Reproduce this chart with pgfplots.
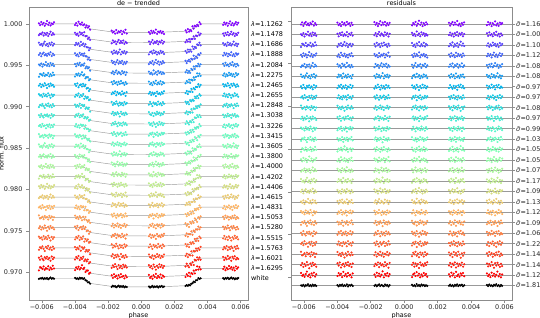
\documentclass[border=0pt]{standalone}
\usepackage{pgfplots}
\pgfplotsset{compat=1.18}
\usepackage{pgfplotstable}
\usepackage{fontspec}
\setmainfont{DejaVu Sans}

\definecolor{c0}{rgb}{0.500,0.000,1.000}
\definecolor{c1}{rgb}{0.417,0.131,0.998}
\definecolor{c2}{rgb}{0.333,0.259,0.991}
\definecolor{c3}{rgb}{0.250,0.383,0.981}
\definecolor{c4}{rgb}{0.167,0.500,0.966}
\definecolor{c5}{rgb}{0.083,0.609,0.947}
\definecolor{c6}{rgb}{0.000,0.707,0.924}
\definecolor{c7}{rgb}{0.083,0.793,0.897}
\definecolor{c8}{rgb}{0.167,0.866,0.866}
\definecolor{c9}{rgb}{0.250,0.924,0.832}
\definecolor{c10}{rgb}{0.333,0.966,0.793}
\definecolor{c11}{rgb}{0.417,0.991,0.752}
\definecolor{c12}{rgb}{0.500,1.000,0.707}
\definecolor{c13}{rgb}{0.583,0.991,0.659}
\definecolor{c14}{rgb}{0.667,0.966,0.609}
\definecolor{c15}{rgb}{0.750,0.924,0.556}
\definecolor{c16}{rgb}{0.833,0.866,0.500}
\definecolor{c17}{rgb}{0.917,0.793,0.442}
\definecolor{c18}{rgb}{1.000,0.707,0.383}
\definecolor{c19}{rgb}{1.000,0.609,0.321}
\definecolor{c20}{rgb}{1.000,0.500,0.259}
\definecolor{c21}{rgb}{1.000,0.383,0.195}
\definecolor{c22}{rgb}{1.000,0.259,0.131}
\definecolor{c23}{rgb}{1.000,0.131,0.065}
\definecolor{c24}{rgb}{1.000,0.000,0.000}
\definecolor{cw}{rgb}{0,0,0}
\definecolor{framec}{gray}{0.55}

% x = phase, m = transit model (flux - 1), a..f = scatter of the points
\pgfplotstableread{
x m a b c d e f
-0.00617 0 0.3 -0.5 0.8 -0.2 0.1 -0.9
-0.00610 0 -0.6 0.2 -0.3 0.7 -0.4 0.5
-0.00603 0 0.9 -0.1 0.1 -0.8 0.6 0.2
-0.00596 0 -0.2 0.8 -0.7 0.3 -0.9 -0.3
-0.00589 0 0.5 -0.7 0.4 0.9 0.2 0.8
-0.00582 0 -0.9 0.4 1.3 -0.4 -0.1 -0.6
-0.00575 0 0.1 -0.3 -0.5 0.2 1.2 0.1
-0.00568 0 1.4 0.6 0.2 -0.6 -0.5 -0.2
-0.00561 0 -0.4 -0.9 -0.9 0.5 0.4 0.9
-0.00554 0 0.6 0.1 0.6 -0.1 -0.7 -0.7
-0.00547 0 -0.7 1.2 -0.2 1.1 0.8 0.3
-0.00540 0 0.2 -0.4 0.9 -0.7 -0.3 -0.4
-0.00533 0 -0.1 0.5 -0.6 0.4 0.5 1.1
-0.00526 0 0.8 -0.2 0.3 -0.3 -0.6 -0.1
-0.00399 0 -0.5 0.7 -0.4 0.6 0.3 -0.8
-0.00392 0 0.4 -0.3 0.7 -0.5 -0.8 0.4
-0.00385 0 -0.8 0.2 -0.1 0.1 0.6 -0.2
-0.00378 0 1.1 -0.8 0.5 -0.9 -0.2 0.7
-0.00371 0 0.1 0.9 -0.8 0.8 0.9 -0.5
-0.00364 0 -0.3 -0.1 1.2 -0.2 -0.6 0.2
-0.00357 0 0.7 0.5 -0.3 0.4 0.1 1.3
-0.00350 0 -0.6 -0.6 0.4 -0.6 -0.4 -0.3
-0.00343 -0.000099 0.2 1.3 -0.6 0.9 1.0 0.6
-0.00336 -0.000198 -0.9 -0.2 0.8 -0.1 -0.9 -0.9
-0.00329 -0.000298 0.5 0.3 -0.2 0.3 0.3 0.1
-0.00322 -0.000397 -0.2 -0.7 0.1 -0.8 -0.2 0.5
-0.00315 -0.000496 0.9 0.4 -0.9 0.5 0.7 -0.6
-0.00308 -0.000595 -0.4 -0.4 0.6 -0.4 -0.5 0.3
-0.00178 -0.000956 0.6 -0.6 0.2 0.8 -0.3 0.4
-0.00171 -0.000961 -0.3 0.8 -0.7 -0.3 0.6 -0.7
-0.00164 -0.000966 0.2 -0.1 0.9 0.4 -0.8 0.9
-0.00157 -0.000970 -0.8 0.4 -0.3 -0.9 0.2 -0.2
-0.00150 -0.000975 1.0 -0.9 0.5 0.2 1.1 0.3
-0.00143 -0.000979 -0.5 0.2 -0.6 1.2 -0.5 -0.9
-0.00136 -0.000983 0.3 1.1 0.1 -0.5 0.4 0.6
-0.00129 -0.000986 -0.1 -0.4 1.4 0.6 -0.1 -0.4
-0.00122 -0.000990 0.7 0.6 -0.9 -0.2 -0.7 1.0
-0.00115 -0.000993 -0.9 -0.2 0.4 0.9 0.9 -0.1
-0.00108 -0.000996 0.4 0.9 -0.2 -0.7 -0.2 0.2
-0.00101 -0.000999 -0.2 -0.7 0.7 0.3 0.5 -0.8
-0.00094 -0.001002 1.2 0.3 -0.5 -0.4 -0.9 0.5
-0.00087 -0.001005 -0.6 -0.3 0.3 0.5 0.3 -0.3
0.00047 -0.001016 0.1 0.5 -0.8 -0.6 0.7 0.8
0.00054 -0.001014 -0.7 -0.8 0.3 0.4 -0.4 -0.5
0.00061 -0.001012 0.8 0.2 0.6 -0.2 0.2 0.1
0.00068 -0.001011 -0.4 1.2 -0.4 0.9 -0.7 -0.9
0.00075 -0.001009 0.5 -0.5 1.1 -0.8 1.3 0.6
0.00082 -0.001006 -0.2 0.3 -0.2 0.2 -0.3 -0.2
0.00089 -0.001004 1.3 -0.2 0.5 1.4 0.4 1.2
0.00096 -0.001001 -0.8 0.7 -0.9 -0.3 -0.8 -0.6
0.00103 -0.000999 0.3 -0.9 0.2 0.6 0.9 0.3
0.00110 -0.000996 -0.1 0.4 -0.5 -0.9 -0.1 -0.4
0.00117 -0.000992 0.6 -0.1 0.8 0.3 0.5 0.9
0.00124 -0.000989 -0.5 0.9 -0.1 -0.5 -0.6 -0.7
0.00131 -0.000985 0.2 -0.6 0.4 0.7 0.2 0.4
0.00138 -0.000982 -0.9 0.2 -0.7 -0.1 -0.4 -0.1
0.00268 -0.000875 0.4 -0.4 0.3 0.5 -0.2 -0.6
0.00275 -0.000867 -0.6 0.6 -0.6 -0.7 0.8 0.5
0.00282 -0.000859 0.9 -0.2 0.9 0.2 -0.5 -0.2
0.00289 -0.000851 -0.3 1.0 -0.2 0.9 0.3 1.1
0.00296 -0.000765 0.2 -0.7 0.5 -0.4 -0.9 -0.8
0.00303 -0.000666 -0.8 0.3 -0.9 0.6 0.6 0.3
0.00310 -0.000567 1.1 -0.1 1.2 -0.2 -0.3 -0.4
0.00317 -0.000468 -0.4 0.8 -0.4 1.3 1.0 0.7
0.00324 -0.000368 0.6 -0.8 0.2 -0.6 -0.6 -0.9
0.00331 -0.000269 -0.2 0.4 -0.7 0.1 0.4 0.2
0.00338 -0.000170 0.3 -0.3 0.6 -0.9 -0.1 1.4
0.00345 -0.000071 -0.7 1.1 -0.1 0.4 0.7 -0.3
0.00352 0 0.8 -0.5 0.8 -0.3 -0.8 0.6
0.00359 0 -0.1 0.2 -0.5 0.7 0.2 -0.5
0.00495 0 -0.4 0.3 0.6 -0.5 0.5 -0.3
0.00502 0 0.7 -0.8 -0.4 0.8 -0.6 0.7
0.00509 0 -0.2 0.6 0.2 -0.2 0.9 -0.8
0.00516 0 0.5 -0.3 -0.8 0.5 -0.3 0.2
0.00523 0 -0.9 0.9 0.9 -0.9 0.1 -0.4
0.00530 0 0.2 -0.6 -0.3 0.3 -0.8 1.0
0.00537 0 1.2 0.1 0.5 -0.3 0.6 -0.1
0.00544 0 -0.5 1.2 -0.6 1.1 -0.2 0.5
0.00551 0 0.4 -0.2 0.1 -0.6 1.2 -0.6
0.00558 0 -0.7 0.5 1.3 0.2 -0.5 0.3
0.00565 0 0.1 -0.9 -0.5 -0.8 0.3 -0.9
0.00572 0 0.9 0.2 0.4 0.6 -0.9 0.8
0.00579 0 -0.3 -0.4 -0.9 -0.1 0.4 -0.2
0.00586 0 0.6 0.7 0.2 0.4 -0.4 0.4
}\data

\pgfplotsset{
  pts/.style={only marks, mark=*, mark size=0.85bp},
  modelline/.style={no markers, draw=black!40, line width=0.45bp},
  base/.style={
    scale only axis, width=219bp, height=293bp,
    xmin=-0.00677, xmax=0.00645,
    scaled x ticks=false, scaled y ticks=false,
    tick align=outside, major tick length=3bp,
    tick style={framec, line width=0.5bp},
    axis line style={framec, line width=0.6bp},
    every tick label/.append style={font=\fontsize{6.5}{7.5}\selectfont, text=black!85},
    label style={font=\fontsize{6.5}{7.5}\selectfont},
    every axis title shift=0pt,
    title style={font=\fontsize{6.5}{7.5}\selectfont, at={(0.5,1)}, anchor=base, inner sep=0pt, yshift=1.8bp},
    xtick={-0.006,-0.004,-0.002,0,0.002,0.004,0.006},
    xticklabels={−0.006,−0.004,−0.002,0.000,0.002,0.004,0.006},
    xlabel={phase},
    xlabel style={yshift=4.5bp},
    xticklabel style={yshift=1.5bp},
    clip mode=individual,
  }
}

\newcommand{\lser}[5]{%
  \addplot[modelline] table[x=x, y expr={#1+\thisrow{m}}]{\data};
  \addplot[pts, #2] table[x=x, y expr={#1+\thisrow{m}+#4*\thisrow{#3}}]{\data};
  \node[anchor=west, inner sep=0pt, font=\fontsize{6.5}{7.5}\selectfont, xshift=3bp] at (axis cs:0.00645,#1) {#5};
}
\newcommand{\rser}[4]{%
  \addplot[pts, #2] table[x=x, y expr={#1+#4*\thisrow{#3}}]{\data};
}

\begin{document}
\begin{tikzpicture}
% ---------------- left panel ----------------
\begin{axis}[base,
  at={(29bp,18bp)}, anchor=south west,
  ymin=0.96665, ymax=1.00205,
  tick pos=left,
  ytick={0.970,0.975,0.980,0.985,0.990,0.995,1.000},
  yticklabels={0.970,0.975,0.980,0.985,0.990,0.995,1.000},
  ylabel={norm. flux}, ylabel style={yshift=-6.5bp},
  title={de − trended},
]
\lser{1.00000}{c0}{a}{0.00025}{\textit{λ}=1.1262}
\lser{0.99877}{c1}{b}{0.00025}{\textit{λ}=1.1478}
\lser{0.99754}{c2}{c}{0.00025}{\textit{λ}=1.1686}
\lser{0.99631}{c3}{d}{0.00025}{\textit{λ}=1.1888}
\lser{0.99508}{c4}{e}{0.00025}{\textit{λ}=1.2084}
\lser{0.99385}{c5}{f}{0.00025}{\textit{λ}=1.2275}
\lser{0.99262}{c6}{a}{-0.00025}{\textit{λ}=1.2465}
\lser{0.99139}{c7}{b}{-0.00025}{\textit{λ}=1.2655}
\lser{0.99016}{c8}{c}{-0.00025}{\textit{λ}=1.2848}
\lser{0.98893}{c9}{d}{-0.00025}{\textit{λ}=1.3038}
\lser{0.98770}{c10}{e}{-0.00025}{\textit{λ}=1.3226}
\lser{0.98647}{c11}{f}{-0.00025}{\textit{λ}=1.3415}
\lser{0.98524}{c12}{c}{0.00026}{\textit{λ}=1.3605}
\lser{0.98401}{c13}{d}{0.00026}{\textit{λ}=1.3800}
\lser{0.98278}{c14}{e}{0.00026}{\textit{λ}=1.4000}
\lser{0.98155}{c15}{f}{0.00026}{\textit{λ}=1.4202}
\lser{0.98032}{c16}{a}{0.00026}{\textit{λ}=1.4406}
\lser{0.97909}{c17}{b}{0.00026}{\textit{λ}=1.4615}
\lser{0.97786}{c18}{e}{-0.00027}{\textit{λ}=1.4831}
\lser{0.97663}{c19}{f}{-0.00027}{\textit{λ}=1.5053}
\lser{0.97540}{c20}{a}{-0.00027}{\textit{λ}=1.5280}
\lser{0.97417}{c21}{b}{-0.00028}{\textit{λ}=1.5515}
\lser{0.97294}{c22}{c}{-0.00028}{\textit{λ}=1.5763}
\lser{0.97171}{c23}{d}{-0.00028}{\textit{λ}=1.6021}
\lser{0.97048}{c24}{f}{0.00028}{\textit{λ}=1.6295}
\lser{0.96925}{cw}{b}{0.00010}{white}
\end{axis}

% ---------------- right panel: zero lines and labels ----------------
\begin{axis}[base,
  at={(291bp,18bp)}, anchor=south west, width=221bp,
  ymin=-26.39, ymax=1.625,
  axis x line=none, axis y line*=right,
  xlabel={}, 
  ytick={0,-1,-2,-3,-4,-5,-6,-7,-8,-9,-10,-11,-12,-13,-14,-15,-16,-17,-18,-19,-20,-21,-22,-23,-24,-25},
  yticklabels={\textit{σ̃}=1.16,\textit{σ̃}=1.00,\textit{σ̃}=1.10,\textit{σ̃}=1.12,\textit{σ̃}=1.08,\textit{σ̃}=1.08,\textit{σ̃}=0.97,\textit{σ̃}=0.97,\textit{σ̃}=1.08,\textit{σ̃}=0.97,\textit{σ̃}=0.99,\textit{σ̃}=1.03,\textit{σ̃}=1.05,\textit{σ̃}=1.05,\textit{σ̃}=1.07,\textit{σ̃}=1.17,\textit{σ̃}=1.09,\textit{σ̃}=1.13,\textit{σ̃}=1.12,\textit{σ̃}=1.09,\textit{σ̃}=1.06,\textit{σ̃}=1.22,\textit{σ̃}=1.14,\textit{σ̃}=1.14,\textit{σ̃}=1.12,\textit{σ̃}=1.81},
  yticklabel style={anchor=west, xshift=-2.5bp},
  ymajorgrids, grid style={black!40, line width=0.45bp},
]
\addplot[draw=none] coordinates {(0,0)};
\end{axis}

% ---------------- right panel: residual points ----------------
\begin{axis}[base,
  at={(291bp,18bp)}, anchor=south west, width=221bp,
  ymin=-26.39, ymax=1.625,
  tick pos=left,
  ytick={0.3,-3.75,-7.85,-11.95,-16.05,-20.15,-24.25},
  yticklabels={},
  title={residuals},
]
\rser{0}{c0}{d}{0.22}
\rser{-1}{c1}{e}{0.22}
\rser{-2}{c2}{f}{0.22}
\rser{-3}{c3}{a}{0.22}
\rser{-4}{c4}{b}{0.22}
\rser{-5}{c5}{c}{0.22}
\rser{-6}{c6}{d}{-0.22}
\rser{-7}{c7}{e}{-0.22}
\rser{-8}{c8}{f}{-0.22}
\rser{-9}{c9}{a}{-0.22}
\rser{-10}{c10}{b}{-0.22}
\rser{-11}{c11}{c}{-0.22}
\rser{-12}{c12}{f}{0.23}
\rser{-13}{c13}{a}{0.23}
\rser{-14}{c14}{b}{0.23}
\rser{-15}{c15}{c}{0.23}
\rser{-16}{c16}{d}{0.23}
\rser{-17}{c17}{e}{0.23}
\rser{-18}{c18}{b}{-0.24}
\rser{-19}{c19}{c}{-0.24}
\rser{-20}{c20}{d}{-0.24}
\rser{-21}{c21}{e}{-0.25}
\rser{-22}{c22}{f}{-0.25}
\rser{-23}{c23}{a}{-0.25}
\rser{-24}{c24}{c}{0.25}
\rser{-25}{cw}{e}{0.10}
\end{axis}

\pgfresetboundingbox
\path[use as bounding box] (0,0) rectangle (540bp,318bp);
\end{tikzpicture}
\end{document}
